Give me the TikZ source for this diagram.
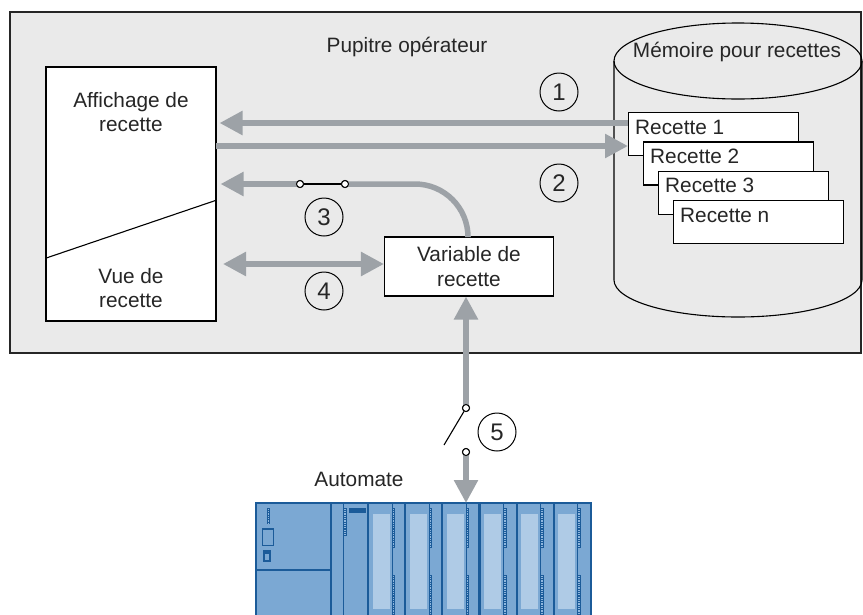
\documentclass[tikz,border=0pt]{standalone}
\usepackage{fontspec}
\setmainfont{Liberation Sans}
\usetikzlibrary{arrows.meta,calc}

\definecolor{panelbg}{HTML}{EAEAEA}
\definecolor{flowgray}{HTML}{9DA2A7}
\definecolor{txt}{HTML}{262626}
\definecolor{plcfill}{HTML}{7BA8D3}
\definecolor{plcdark}{HTML}{1B5B99}
\definecolor{plclight}{HTML}{AFCBE6}
\definecolor{plcled}{HTML}{8FB7DE}

% LED column on a PLC module: {x1}{y1}{x2}{y2}
\newcommand\ledstrip[4]{%
  \fill[plcdark] (#1,#2) rectangle (#3,#4);
  \draw[plcled, line width=1.5pt, dash pattern=on 1.2pt off 1.1pt]
    ({(#1+#3)/2},#2+0.8) -- ({(#1+#3)/2},#4-0.8);
}

\begin{document}
\begin{tikzpicture}[x=1pt,y=-1pt,
  font=\fontsize{20.8}{24.5}\selectfont, text=txt,
  box/.style={draw=black, line width=1.1pt, fill=white, inner sep=0pt},
  recbox/.style={box, anchor=north west, minimum width=170pt, minimum height=43pt},
  num/.style={circle, draw=black, line width=1pt, minimum size=38pt, inner sep=0pt,
              font=\fontsize{24}{24}\selectfont},
  flow/.style={draw=flowgray, line width=5.5pt},
  tip/.style={-{Triangle[length=23pt,width=23pt]}},
  pin/.style={circle, draw=black, fill=white, line width=1pt, minimum size=7pt, inner sep=0pt},
  lbl/.style={inner sep=0pt, align=center}
]
\useasboundingbox (0,0) rectangle (863,614);

% operator panel
\fill[panelbg, draw=black!85, line width=1.5pt] (10,12) rectangle (861,353);
\node[lbl] (title) at (407,47) {Pupitre opérateur};

% recipe display / recipe view
\node[box, minimum width=170pt, minimum height=254pt] (disp) at (131,194) {};
\draw[line width=1.1pt] ($(disp.south west)!0.248!(disp.north west)$) -- ($(disp.south east)!0.476!(disp.north east)$);
\node[lbl] (aff) at (131,112) {Affichage de\\recette};
\node[lbl] (vue) at (131,288) {Vue de\\recette};

% recipe memory (cylinder)
\draw[line width=1.1pt] (738,61) ellipse [x radius=124, y radius=38];
\draw[line width=1.1pt] (614,61) -- (614,280) arc[start angle=180, end angle=0, x radius=124, y radius=37] -- (862,61);
\node[lbl] (mem) at (737,52) {Mémoire pour recettes};

% stacked recipes
\foreach \k/\t [count=\j from 0] in {r1/Recette 1, r2/Recette 2, r3/Recette 3, rn/Recette n} {
  \node[recbox] (\k) at (628+15*\j, 112+29.4*\j) {};
  \node[lbl, anchor=west] at ($(\k.north west)+(7,15)$) {\t};
}

% recipe tag
\node[box, minimum width=169pt, minimum height=59pt, align=center, font=\fontsize{20.8}{25.5}\selectfont] (var) at (469,266.5) {Variable de\\recette};

% (1) memory -> display
\coordinate (a1) at ($(r1.north west)+(0,11)$);
\draw[flow, tip, shorten >=3pt] (a1) -- (a1 -| disp.east);
% (2) display -> memory
\coordinate (a2) at (216,146);
\draw[flow, tip] (a2) -- (a2 -| r1.west);

% (3) tag -> display through a switch
\node[pin] (s3a) at (300,184) {};
\node[pin] (s3b) at (345,184) {};
\draw[flow, rounded corners=53pt] ($(var.north)+(-1,0)$) |- (s3b.center);
\draw[flow, tip, shorten >=4pt] (s3a.center) -- (s3a -| disp.east);
\draw[line width=1.1pt] (s3a) -- (s3b);
\node[pin] at (s3a) {};
\node[pin] at (s3b) {};

% (4) display <-> tag
\coordinate (a4) at (216,264);
\draw[flow, {Triangle[length=23pt,width=23pt]}-{Triangle[length=23pt,width=23pt]}, shorten <=7pt] (a4) -- (a4 -| var.west);

% PLC
\node[lbl] (plclbl) at (359,479) {Automate};
\node[inner sep=0pt, minimum width=335pt, minimum height=117pt, anchor=north west] (plc) at (256,503) {};
\fill[plcfill] (256,503) rectangle (591,620);
% power supply
\draw[plcdark, line width=2pt] (256,570) -- (331,570);
\ledstrip{267}{508}{270}{524}
\draw[plcdark, line width=1.1pt] (262.5,529) rectangle (273.5,545.5);
\draw[plcdark, line width=1.1pt] (264,551) rectangle (270,561);
\draw[plcdark, line width=1.1pt] (264,553) -- (270,553);
% CPU
\draw[plcdark, line width=0.9pt] (343.5,503) -- (343.5,620);
\ledstrip{343}{508}{346.5}{536}
\fill[plcdark] (349,508) rectangle (366,513);
% signal modules
\foreach \i in {0,...,5} {
  \pgfmathsetmacro\xo{368+37.17*\i}
  \fill[plclight] (\xo+4.5,514) rectangle (\xo+21.5,609);
  \draw[plcdark, line width=0.9pt] (\xo+24,503) -- (\xo+24,620);
  \ledstrip{\xo+23.5}{508}{\xo+27}{548}
  \ledstrip{\xo+23.5}{575}{\xo+27}{620}
  \draw[plcdark, line width=2.2pt] (\xo,503) -- (\xo,620);
}
\draw[plcdark, line width=2.2pt] (331,503) -- (331,620);
\draw[plcdark, line width=2.2pt] (256,620) -- (256,503) -- (591,503) -- (591,620);

% (5) PLC <-> tag through a switch
\node[pin] (s5a) at (466,408) {};
\node[pin] (s5b) at (466,452) {};
\draw[flow, tip] (s5a.center) -- (s5a |- var.south);
\draw[flow, tip] (s5b.center) -- (s5b |- plc.north);
\draw[line width=1.1pt] (444,445) -- (s5a);
\node[pin] at (s5a) {};
\node[pin] at (s5b) {};

% step numbers
\node[num] (n1) at (559,92) {1};
\node[num] (n2) at (559,183) {2};
\node[num] (n3) at (324,217) {3};
\node[num] (n4) at (324,291) {4};
\node[num] (n5) at (497,432) {5};
\end{tikzpicture}
\end{document}
